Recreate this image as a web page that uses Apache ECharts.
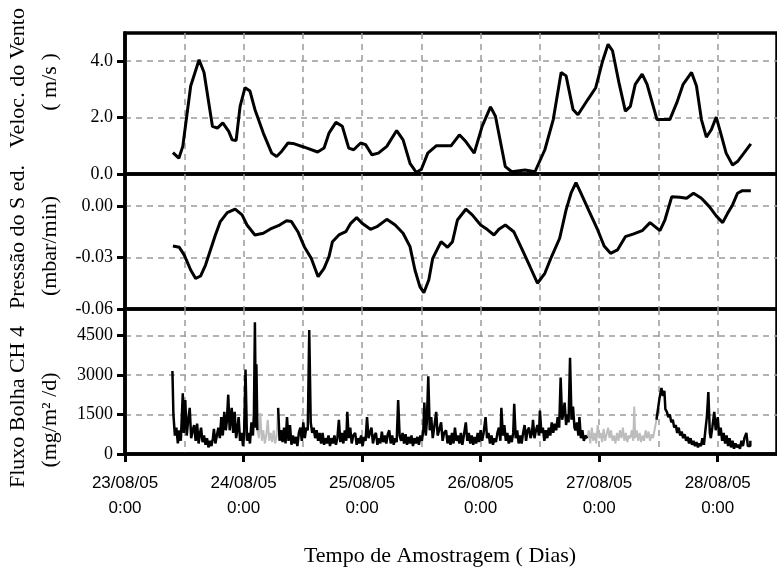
<!DOCTYPE html>
<html>
<head>
<meta charset="utf-8">
<script src="https://cdn.jsdelivr.net/npm/echarts@6.0.0/dist/echarts.min.js"></script>
<style>
  html, body { margin: 0; padding: 0; background: #fff; }
  #chart { width: 777px; height: 579px; }
</style>
</head>
<body>
<div id="chart"></div>
<script>
// horas desde 23/08/05 0:00
var dayLabels = ['23/08/05', '24/08/05', '25/08/05', '26/08/05', '27/08/05', '28/08/05'];

// Veloc. do Vento (m/s)
var windSpeed = [
  [9.7, 0.76], [10.9, 0.56], [11.7, 0.98], [13.3, 3.12], [15.0, 4.05], [16.0, 3.6],
  [17.7, 1.69], [18.7, 1.63], [19.8, 1.81], [21.0, 1.51], [21.7, 1.21], [22.5, 1.19],
  [23.3, 2.4], [24.3, 3.06], [25.3, 2.94], [26.3, 2.29], [28.0, 1.45], [29.7, 0.74],
  [30.7, 0.62], [31.7, 0.8], [33.0, 1.1], [34.3, 1.07], [36.3, 0.95], [39.0, 0.78],
  [40.3, 0.92], [41.3, 1.45], [42.7, 1.83], [44.0, 1.69], [45.3, 0.92], [46.3, 0.86],
  [47.7, 1.1], [48.7, 1.04], [50.0, 0.68], [51.3, 0.74], [53.0, 0.98], [55.0, 1.54],
  [56.3, 1.21], [57.7, 0.38], [59.0, 0.05], [60.0, 0.17], [61.3, 0.74], [63.0, 1.0],
  [66.0, 1.0], [67.7, 1.39], [69.0, 1.15], [70.7, 0.74], [72.3, 1.69], [74.0, 2.38],
  [75.0, 2.05], [77.0, 0.26], [78.3, 0.08], [81.0, 0.14], [83.0, 0.08], [85.0, 0.86],
  [86.7, 1.93], [88.3, 3.6], [89.3, 3.48], [90.7, 2.29], [91.7, 2.1], [93.7, 2.64],
  [95.3, 3.06], [96.7, 4.01], [97.8, 4.6], [98.7, 4.37], [100.0, 3.24], [101.3, 2.23],
  [102.3, 2.4], [103.3, 3.18], [104.7, 3.54], [105.7, 3.18], [107.7, 1.93], [110.3, 1.93],
  [111.7, 2.52], [113.0, 3.18], [114.7, 3.6], [115.7, 3.12], [116.7, 1.93], [117.7, 1.31],
  [118.7, 1.57], [119.7, 2.02], [120.7, 1.39], [121.7, 0.74], [123.0, 0.32], [124.0, 0.44],
  [125.3, 0.74], [126.7, 1.07]
];

// Pressão do Sed. (mbar/min)
var pressure = [
  [9.7, -0.0233], [11.0, -0.0241], [12.0, -0.0286], [13.3, -0.0373], [14.3, -0.0422],
  [15.3, -0.0408], [16.3, -0.0344], [17.3, -0.0256], [18.3, -0.0169], [19.3, -0.0091],
  [20.7, -0.0039], [22.3, -0.0019], [23.7, -0.0052], [24.7, -0.0111], [26.3, -0.0169],
  [28.0, -0.0159], [29.7, -0.013], [31.3, -0.0111], [32.7, -0.0086], [33.7, -0.0091],
  [35.0, -0.015], [36.3, -0.0237], [37.7, -0.0305], [39.1, -0.0412], [40.3, -0.0363],
  [41.3, -0.0295], [42.0, -0.0208], [43.3, -0.0169], [44.7, -0.015], [45.7, -0.0101],
  [46.9, -0.0068], [48.0, -0.0101], [49.7, -0.0136], [51.0, -0.0121], [53.0, -0.0078],
  [54.7, -0.0111], [56.3, -0.0159], [57.7, -0.0237], [58.7, -0.0373], [59.7, -0.047],
  [60.5, -0.0505], [61.5, -0.0431], [62.3, -0.0305], [64.0, -0.0208], [65.3, -0.0241],
  [66.3, -0.0208], [67.3, -0.0082], [69.0, -0.0019], [70.3, -0.0052], [72.0, -0.0111],
  [73.3, -0.0136], [74.7, -0.0169], [75.7, -0.0136], [77.0, -0.0111], [78.7, -0.015],
  [80.3, -0.0247], [82.0, -0.0354], [83.5, -0.045], [85.0, -0.0392], [86.3, -0.0299],
  [88.0, -0.0188], [89.3, -0.0023], [90.3, 0.0074], [91.3, 0.0136], [92.3, 0.0074],
  [94.0, -0.0033], [95.7, -0.014], [97.0, -0.0233], [98.3, -0.0276], [99.7, -0.0256],
  [101.3, -0.0179], [103.0, -0.0163], [104.7, -0.0144], [106.3, -0.0097], [108.3, -0.0144],
  [109.3, -0.0082], [110.7, 0.0054], [112.3, 0.0051], [113.7, 0.0045], [115.1, 0.0074],
  [116.7, 0.0045], [118.3, -0.0004], [119.7, -0.0058], [121.0, -0.0097], [122.0, -0.0043],
  [123.0, 0.0006], [124.0, 0.0074], [125.0, 0.0089], [126.7, 0.0089]
];

// Fluxo Bolha CH4 (mg/m2/d) - trechos medidos (preto)
var fluxA = [
  [9.6, 3150], [9.8, 1500], [10.1, 700], [10.4, 1000], [10.7, 400], [11.0, 900], [11.3, 500],
  [11.7, 2300], [11.9, 800], [12.2, 2050], [12.5, 700], [12.8, 1300], [13.1, 1750], [13.4, 600],
  [13.7, 900], [14.0, 1100], [14.3, 500], [14.6, 1150], [14.9, 400], [15.2, 800], [15.4, 1000],
  [15.7, 450], [16.0, 700], [16.3, 350], [16.6, 600], [16.9, 250], [17.2, 500], [17.5, 300],
  [17.8, 600], [18.0, 950], [18.3, 400], [18.6, 700], [18.9, 1000], [19.2, 600], [19.5, 1400],
  [19.8, 700], [20.1, 1600], [20.4, 900], [20.6, 1200], [20.9, 2250], [21.2, 900], [21.6, 1750],
  [21.9, 800], [22.2, 1600], [22.5, 600], [22.8, 1000], [23.0, 1400], [23.3, 500], [23.6, 800],
  [23.9, 300], [24.1, 700], [24.4, 3200], [24.7, 500], [25.0, 800], [25.3, 400], [25.6, 1200],
  [25.9, 700], [26.1, 1500], [26.3, 5000], [26.5, 1000], [26.6, 3400], [26.8, 900]
];
var fluxB = [
  [31.0, 1750], [31.3, 500], [31.6, 900], [31.9, 450], [32.2, 1000], [32.5, 400], [32.8, 1400],
  [33.1, 500], [33.4, 1100], [33.7, 350], [34.0, 700], [34.3, 400], [34.6, 650], [34.9, 300],
  [35.2, 800], [35.5, 1000], [35.8, 500], [36.1, 1200], [36.4, 600], [36.7, 1000], [37.0, 900],
  [37.3, 4700], [37.6, 1200], [37.9, 800], [38.2, 1000], [38.5, 600], [38.8, 900], [39.1, 500],
  [39.4, 800], [39.7, 400], [40.0, 800], [40.3, 350], [40.6, 600], [40.9, 400], [41.2, 700],
  [41.5, 300], [41.8, 600], [42.1, 400], [42.4, 700], [42.7, 350], [43.0, 600], [43.3, 1300],
  [43.6, 450], [43.9, 800], [44.2, 400], [44.5, 900], [44.8, 500], [45.0, 1600], [45.3, 600],
  [45.6, 1000], [45.9, 400], [46.2, 700], [46.6, 800], [46.9, 350], [47.2, 600], [47.5, 400],
  [47.8, 700], [48.1, 300], [48.4, 650], [48.7, 500], [49.0, 1400], [49.3, 600], [49.6, 800],
  [49.9, 1000], [50.2, 400], [50.5, 700], [50.8, 800], [51.1, 350], [51.4, 600], [51.7, 400],
  [52.0, 850], [52.3, 450], [52.6, 700], [52.9, 400], [53.2, 750], [53.5, 900], [53.8, 400],
  [54.1, 700], [54.4, 350], [54.7, 600], [55.0, 450], [55.3, 2050], [55.6, 700], [55.9, 500],
  [56.2, 800], [56.5, 400], [56.8, 750], [57.1, 350], [57.4, 650], [57.7, 400], [58.0, 700],
  [58.3, 300], [58.6, 600], [58.9, 400], [59.2, 650], [59.5, 350], [59.8, 700], [60.1, 500],
  [60.4, 900], [60.6, 1950], [60.9, 700], [61.1, 1200], [61.4, 2950], [61.7, 900], [62.0, 1400],
  [62.3, 600], [62.6, 1000], [63.0, 1600], [63.3, 700], [63.6, 900], [64.0, 1200], [64.3, 500],
  [64.6, 800], [65.0, 900], [65.3, 400], [65.6, 700], [65.9, 350], [66.2, 800], [66.5, 400],
  [66.8, 1000], [67.1, 500], [67.4, 700], [67.7, 400], [68.0, 800], [68.3, 350], [68.6, 700],
  [69.0, 1200], [69.3, 500], [69.6, 800], [69.9, 400], [70.2, 700], [70.5, 350], [70.8, 650],
  [71.1, 400], [71.4, 800], [71.7, 450], [72.0, 900], [72.3, 500], [72.6, 800], [73.0, 1400],
  [73.3, 600], [73.6, 800], [73.9, 400], [74.2, 700], [74.5, 350], [74.8, 600], [75.1, 450],
  [75.4, 800], [75.7, 1000], [76.0, 500], [76.2, 1750], [76.5, 700], [76.8, 1100], [77.1, 500],
  [77.4, 800], [77.7, 400], [78.0, 700], [78.3, 450], [78.6, 800], [78.8, 1900], [79.1, 600],
  [79.4, 900], [79.7, 400], [80.0, 700], [80.3, 400], [80.6, 800], [80.9, 1100], [81.2, 500],
  [81.5, 900], [81.8, 1000], [82.1, 600], [82.4, 800], [82.6, 1300], [82.9, 600], [83.2, 900],
  [83.5, 1100], [83.8, 700], [84.0, 1650], [84.3, 800], [84.6, 1000], [84.9, 500], [85.2, 900],
  [85.5, 600], [85.8, 1000], [86.1, 700], [86.4, 1200], [86.7, 800], [87.0, 1150], [87.3, 900],
  [87.6, 1400], [87.9, 1000], [88.2, 2900], [88.5, 1300], [88.8, 1600], [89.0, 1950], [89.3, 1100],
  [89.6, 1500], [89.8, 1200], [90.1, 3650], [90.4, 1300], [90.7, 1800], [91.0, 1000], [91.2, 900],
  [91.5, 1200], [91.8, 700], [92.0, 1400], [92.3, 600], [92.6, 900], [92.9, 500], [93.2, 700],
  [93.6, 600]
];
var fluxC = [
  [107.6, 1300], [107.9, 1700], [108.2, 2100], [108.6, 2500], [108.9, 2200], [109.2, 2400],
  [109.4, 1700], [109.7, 1600], [110.0, 1400], [110.3, 1500], [110.6, 1200], [110.9, 1300],
  [111.2, 1000], [111.5, 1100], [111.8, 800], [112.1, 1000], [112.4, 700], [112.7, 850],
  [113.0, 600], [113.3, 750], [113.6, 500], [113.9, 650], [114.2, 400], [114.5, 600],
  [114.8, 350], [115.1, 500], [115.4, 300], [115.7, 450], [116.0, 250], [116.3, 400],
  [116.6, 300], [116.9, 600], [117.2, 350], [117.5, 900], [117.8, 1400], [118.1, 2350],
  [118.4, 800], [118.6, 600], [118.9, 1000], [119.3, 1600], [119.6, 900], [120.0, 1400],
  [120.3, 700], [120.6, 1000], [120.9, 500], [121.2, 800], [121.5, 400], [121.8, 700],
  [122.1, 300], [122.4, 600], [122.7, 250], [123.0, 500], [123.3, 200], [123.6, 400],
  [123.9, 250], [124.2, 350], [124.5, 200], [124.8, 500], [125.1, 300], [125.4, 600],
  [125.8, 800], [126.1, 300], [126.6, 500]
];
// trechos sem medição (cinza)
var fluxGap1 = [
  [26.8, 900], [27.1, 600], [27.4, 1550], [27.7, 500], [28.0, 900], [28.3, 400], [28.6, 700],
  [28.9, 1300], [29.2, 500], [29.5, 800], [29.8, 450], [30.1, 900], [30.4, 400], [30.7, 700],
  [31.0, 1750]
];
var fluxGap2 = [
  [93.6, 600], [93.9, 900], [94.2, 400], [94.5, 1000], [94.8, 500], [95.1, 800], [95.4, 400],
  [95.7, 1100], [96.0, 600], [96.3, 800], [96.6, 450], [96.9, 950], [97.2, 500], [97.5, 750],
  [97.8, 1000], [98.1, 600], [98.4, 900], [98.7, 500], [99.0, 700], [99.3, 400], [99.6, 800],
  [99.9, 500], [100.2, 900], [100.5, 600], [100.8, 1000], [101.1, 500], [101.4, 800], [101.7, 450],
  [102.0, 700], [102.3, 600], [102.6, 900], [102.9, 500], [103.1, 1800], [103.3, 600], [103.6, 900],
  [103.9, 500], [104.2, 800], [104.5, 450], [104.8, 700], [105.1, 500], [105.4, 900], [105.7, 600],
  [106.0, 850], [106.3, 500], [106.6, 750], [106.9, 600], [107.2, 900], [107.6, 1300]
];

var chart = echarts.init(document.getElementById('chart'));

var serif = '"Liberation Serif", "Times New Roman", serif';
var gridDash = { type: [6, 5], color: '#9a9a9a', width: 1.5 };

function xAxisFor(i) {
  var bottom = i === 2;
  return {
    type: 'value', gridIndex: i, min: 0, max: 132, interval: 24,
    axisLine: { show: bottom, onZero: false, lineStyle: { color: '#000', width: 3.5 } },
    axisTick: { show: bottom, length: 8, lineStyle: { color: '#000', width: 3 } },
    axisLabel: {
      show: bottom, showMaxLabel: false, margin: 17,
      fontFamily: '"Liberation Sans", Arial, sans-serif', fontSize: 17, lineHeight: 25, color: '#000',
      formatter: function (v) {
        var d = Math.round(v / 24);
        return dayLabels[d] ? dayLabels[d] + '\n0:00' : '';
      }
    },
    splitLine: { show: true, showMinLine: false, showMaxLine: false, lineStyle: gridDash },
    minorTick: { show: false, splitNumber: 2 },
    minorSplitLine: { show: true, lineStyle: gridDash }
  };
}

function yAxisFor(i, min, max, interval, fmt) {
  return {
    type: 'value', gridIndex: i, min: min, max: max, interval: interval,
    axisLine: { show: true, onZero: false, lineStyle: { color: '#000', width: 3.5 } },
    axisTick: { show: true, length: 8, lineStyle: { color: '#000', width: 3 } },
    axisLabel: {
      showMaxLabel: false, margin: 12, color: '#000',
      fontFamily: serif, fontSize: 18, formatter: fmt
    },
    splitLine: { show: true, showMinLine: false, showMaxLine: false, lineStyle: gridDash }
  };
}

function line(xi, data, color, width, step) {
  return {
    type: 'line', xAxisIndex: xi, yAxisIndex: xi, data: data,
    showSymbol: false, symbol: 'none', silent: true, step: step || false,
    lineStyle: { color: color, width: width }
  };
}

var sideTitle = function (text, x, y) {
  return {
    type: 'text', x: x, y: y, rotation: Math.PI / 2,
    style: { text: text, fill: '#000', font: '22px ' + serif, align: 'center', verticalAlign: 'middle' }
  };
};

chart.setOption({
  animation: false,
  grid: [
    { left: 125, right: -8, top: 33, height: 141, show: true, borderColor: '#000', borderWidth: 3.5 },
    { left: 125, right: -8, top: 174, height: 135, show: true, borderColor: '#000', borderWidth: 3.5 },
    { left: 125, right: -8, top: 309, height: 145, show: true, borderColor: '#000', borderWidth: 3.5 }
  ],
  xAxis: [xAxisFor(0), xAxisFor(1), xAxisFor(2)],
  yAxis: [
    yAxisFor(0, 0, 5, 2, function (v) { return v.toFixed(1); }),
    yAxisFor(1, -0.06, 0.0186, 0.03, function (v) { return Math.abs(v) < 1e-9 ? '0.00' : v.toFixed(2); }),
    yAxisFor(2, 0, 5500, 1500, function (v) { return String(Math.round(v)); })
  ],
  series: [
    line(0, windSpeed, '#000', 3),
    line(1, pressure, '#000', 3),
    line(2, fluxGap1, '#bdbdbd', 2, 'end'),
    line(2, fluxGap2, '#bdbdbd', 2, 'end'),
    line(2, fluxA, '#000', 2.5, 'end'),
    line(2, fluxB, '#000', 2.5, 'end'),
    line(2, fluxC, '#000', 2.5, 'end')
  ],
  graphic: [
    sideTitle('Veloc. do Vento', 18, 78),
    sideTitle('( m/s )', 50, 82),
    sideTitle('Pressão do S ed.', 18, 237),
    sideTitle('(mbar/min)', 50, 246),
    sideTitle('Fluxo Bolha CH 4', 18, 407),
    sideTitle('(mg/m² /d)', 50, 420),
    {
      type: 'text', x: 440, y: 556,
      style: { text: 'Tempo de Amostragem ( Dias)', fill: '#000', font: '22px ' + serif, align: 'center', verticalAlign: 'middle' }
    }
  ]
});
</script>
</body>
</html>
